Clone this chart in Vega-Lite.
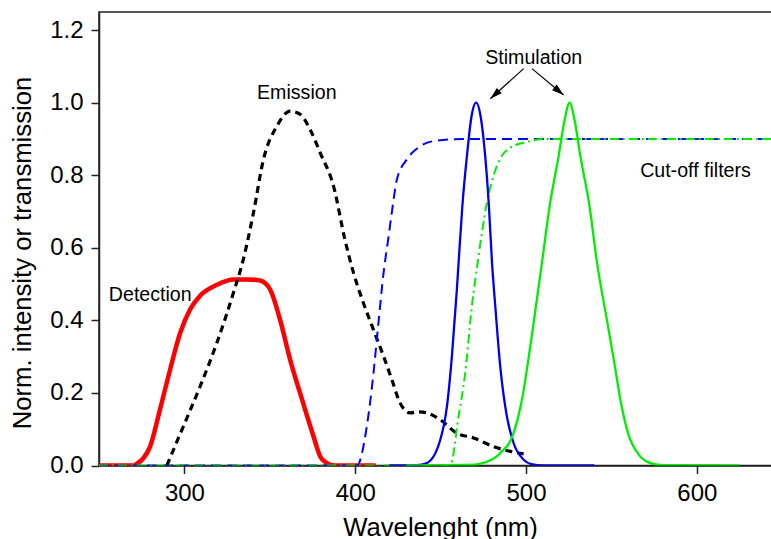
{
  "$schema": "https://vega.github.io/schema/vega-lite/v6.json",
  "autosize": {"type": "none"},
  "padding": {"left": 99, "top": 12, "right": 0, "bottom": 73.5},
  "width": 673,
  "height": 453.5,
  "config": {
    "view": {"stroke": "#222", "strokeWidth": 1.5},
    "font": "Liberation Sans",
    "axis": {
      "grid": false,
      "domainColor": "#222",
      "domainWidth": 1.5,
      "tickColor": "#222",
      "tickWidth": 1.5,
      "tickSize": 8,
      "labelFont": "Liberation Sans",
      "labelFontSize": 24,
      "labelColor": "#000",
      "titleFont": "Liberation Sans",
      "titleFontSize": 25.7,
      "titleFontWeight": "normal",
      "titleColor": "#000"
    }
  },
  "datasets": {
    "curves": [
      {"s": "det", "wl": 250, "v": 0}, {"s": "det", "wl": 270, "v": 0}, {"s": "det", "wl": 272.1, "v": 0.005}, {"s": "det", "wl": 276, "v": 0.02}, {"s": "det", "wl": 279.9, "v": 0.052}, {"s": "det", "wl": 285.7, "v": 0.154}, {"s": "det", "wl": 291.6, "v": 0.264}, {"s": "det", "wl": 297.5, "v": 0.365}, {"s": "det", "wl": 303.3, "v": 0.43}, {"s": "det", "wl": 309.2, "v": 0.468}, {"s": "det", "wl": 319, "v": 0.498}, {"s": "det", "wl": 328.7, "v": 0.513}, {"s": "det", "wl": 337, "v": 0.513}, {"s": "det", "wl": 344.3, "v": 0.51}, {"s": "det", "wl": 347.5, "v": 0.502}, {"s": "det", "wl": 350.2, "v": 0.485}, {"s": "det", "wl": 356, "v": 0.402}, {"s": "det", "wl": 362, "v": 0.29}, {"s": "det", "wl": 369, "v": 0.18}, {"s": "det", "wl": 375.6, "v": 0.08}, {"s": "det", "wl": 379.5, "v": 0.025}, {"s": "det", "wl": 383, "v": 0.008}, {"s": "det", "wl": 388, "v": 0}, {"s": "det", "wl": 412, "v": 0},
      {"s": "em", "wl": 289.7, "v": 0}, {"s": "em", "wl": 299.4, "v": 0.108}, {"s": "em", "wl": 309.2, "v": 0.218}, {"s": "em", "wl": 319, "v": 0.338}, {"s": "em", "wl": 328.7, "v": 0.476}, {"s": "em", "wl": 334.5, "v": 0.568}, {"s": "em", "wl": 340.4, "v": 0.696}, {"s": "em", "wl": 346.3, "v": 0.844}, {"s": "em", "wl": 354.1, "v": 0.935}, {"s": "em", "wl": 361.9, "v": 0.977}, {"s": "em", "wl": 367.8, "v": 0.968}, {"s": "em", "wl": 373.6, "v": 0.926}, {"s": "em", "wl": 379.5, "v": 0.862}, {"s": "em", "wl": 387.3, "v": 0.77}, {"s": "em", "wl": 394.1, "v": 0.62}, {"s": "em", "wl": 399, "v": 0.531}, {"s": "em", "wl": 404.8, "v": 0.448}, {"s": "em", "wl": 410.7, "v": 0.374}, {"s": "em", "wl": 416.6, "v": 0.301}, {"s": "em", "wl": 421.5, "v": 0.236}, {"s": "em", "wl": 426.3, "v": 0.172}, {"s": "em", "wl": 432.2, "v": 0.145}, {"s": "em", "wl": 437, "v": 0.148}, {"s": "em", "wl": 442, "v": 0.145}, {"s": "em", "wl": 449.8, "v": 0.126}, {"s": "em", "wl": 459.5, "v": 0.089}, {"s": "em", "wl": 469.3, "v": 0.076}, {"s": "em", "wl": 481, "v": 0.052}, {"s": "em", "wl": 490.8, "v": 0.039}, {"s": "em", "wl": 498.6, "v": 0.032},
      {"s": "cutb", "wl": 250, "v": 0}, {"s": "cutb", "wl": 401, "v": 0}, {"s": "cutb", "wl": 406.8, "v": 0.108}, {"s": "cutb", "wl": 410.7, "v": 0.255}, {"s": "cutb", "wl": 413.6, "v": 0.393}, {"s": "cutb", "wl": 416.6, "v": 0.531}, {"s": "cutb", "wl": 419.5, "v": 0.63}, {"s": "cutb", "wl": 421.5, "v": 0.7}, {"s": "cutb", "wl": 424.4, "v": 0.788}, {"s": "cutb", "wl": 430.3, "v": 0.844}, {"s": "cutb", "wl": 438, "v": 0.88}, {"s": "cutb", "wl": 445.8, "v": 0.894}, {"s": "cutb", "wl": 463.4, "v": 0.9}, {"s": "cutb", "wl": 644, "v": 0.9},
      {"s": "cutg", "wl": 250, "v": 0}, {"s": "cutg", "wl": 455.6, "v": 0}, {"s": "cutg", "wl": 460.5, "v": 0.135}, {"s": "cutg", "wl": 464.4, "v": 0.255}, {"s": "cutg", "wl": 468.3, "v": 0.439}, {"s": "cutg", "wl": 471.5, "v": 0.553}, {"s": "cutg", "wl": 477.1, "v": 0.724}, {"s": "cutg", "wl": 482.9, "v": 0.825}, {"s": "cutg", "wl": 490.8, "v": 0.876}, {"s": "cutg", "wl": 502.5, "v": 0.894}, {"s": "cutg", "wl": 510, "v": 0.9}, {"s": "cutg", "wl": 644, "v": 0.9},
      {"s": "stb", "wl": 420, "v": 0}, {"s": "stb", "wl": 436, "v": 0.001}, {"s": "stb", "wl": 442, "v": 0.007}, {"s": "stb", "wl": 449.8, "v": 0.071}, {"s": "stb", "wl": 453.7, "v": 0.163}, {"s": "stb", "wl": 456.6, "v": 0.301}, {"s": "stb", "wl": 459.5, "v": 0.485}, {"s": "stb", "wl": 460.5, "v": 0.558}, {"s": "stb", "wl": 462.8, "v": 0.72}, {"s": "stb", "wl": 465.4, "v": 0.853}, {"s": "stb", "wl": 468, "v": 0.96}, {"s": "stb", "wl": 470.8, "v": 1.0}, {"s": "stb", "wl": 473.5, "v": 0.96}, {"s": "stb", "wl": 476.1, "v": 0.853}, {"s": "stb", "wl": 478.2, "v": 0.72}, {"s": "stb", "wl": 480.1, "v": 0.558}, {"s": "stb", "wl": 482, "v": 0.439}, {"s": "stb", "wl": 484.9, "v": 0.273}, {"s": "stb", "wl": 488.8, "v": 0.135}, {"s": "stb", "wl": 492.7, "v": 0.062}, {"s": "stb", "wl": 498.6, "v": 0.016}, {"s": "stb", "wl": 503, "v": 0.004}, {"s": "stb", "wl": 510, "v": 0}, {"s": "stb", "wl": 540, "v": 0},
      {"s": "stg", "wl": 430, "v": 0}, {"s": "stg", "wl": 470, "v": 0.002}, {"s": "stg", "wl": 475, "v": 0.007}, {"s": "stg", "wl": 484.9, "v": 0.034}, {"s": "stg", "wl": 492.7, "v": 0.089}, {"s": "stg", "wl": 497.6, "v": 0.181}, {"s": "stg", "wl": 502.5, "v": 0.328}, {"s": "stg", "wl": 509.3, "v": 0.558}, {"s": "stg", "wl": 514, "v": 0.72}, {"s": "stg", "wl": 519.1, "v": 0.853}, {"s": "stg", "wl": 522.5, "v": 0.95}, {"s": "stg", "wl": 525.5, "v": 1.0}, {"s": "stg", "wl": 528.5, "v": 0.95}, {"s": "stg", "wl": 531.8, "v": 0.853}, {"s": "stg", "wl": 537, "v": 0.72}, {"s": "stg", "wl": 541.6, "v": 0.558}, {"s": "stg", "wl": 547.4, "v": 0.4}, {"s": "stg", "wl": 551.8, "v": 0.28}, {"s": "stg", "wl": 555.5, "v": 0.175}, {"s": "stg", "wl": 560, "v": 0.085}, {"s": "stg", "wl": 566, "v": 0.03}, {"s": "stg", "wl": 572, "v": 0.008}, {"s": "stg", "wl": 580, "v": 0.001}, {"s": "stg", "wl": 625, "v": 0}
    ],
    "labels": [
      {"t": "Emission", "wl": 365.8, "v": 1.009},
      {"t": "Stimulation", "wl": 504.5, "v": 1.108},
      {"t": "Cut-off filters", "wl": 599.2, "v": 0.795},
      {"t": "Detection", "wl": 280, "v": 0.454}
    ],
    "arrows": [
      {"wl": 498.6, "v": 1.094, "wl2": 479.1, "v2": 1.011, "ang": 228},
      {"wl": 503.5, "v": 1.094, "wl2": 522.0, "v2": 1.021, "ang": 130}
    ]
  },
  "layer": [
    {
      "data": {"name": "curves"},
      "transform": [{"filter": "datum.s === 'det'"}],
      "mark": {"type": "line", "color": "#ff0000", "strokeWidth": 4.5, "interpolate": "monotone", "clip": true},
      "encoding": {
        "x": {"field": "wl", "type": "quantitative", "scale": {"domain": [250, 644], "nice": false, "zero": false},
              "axis": {"values": [300, 400, 500, 600], "title": "Wavelenght (nm)", "labelPadding": 8, "titleX": 341, "titleY": 69.5, "titleBaseline": "alphabetic", "titleAnchor": "middle"}},
        "y": {"field": "v", "type": "quantitative", "scale": {"domain": [0, 1.25], "nice": false},
              "axis": {"values": [0, 0.2, 0.4, 0.6, 0.8, 1.0, 1.2], "format": ".1f", "title": "Norm. intensity or transmission", "labelPadding": 8, "titleX": -68.3, "titleY": 240.5, "titleBaseline": "alphabetic", "titleAngle": -90, "titleAnchor": "middle"}}
      }
    },
    {
      "data": {"name": "curves"},
      "transform": [{"filter": "datum.s === 'em'"}],
      "mark": {"type": "line", "color": "#000000", "strokeWidth": 3.2, "strokeDash": [7, 5], "interpolate": "monotone", "clip": true},
      "encoding": {"x": {"field": "wl", "type": "quantitative"}, "y": {"field": "v", "type": "quantitative"}}
    },
    {
      "data": {"name": "curves"},
      "transform": [{"filter": "datum.s === 'cutb'"}],
      "mark": {"type": "line", "color": "#0000ff", "strokeWidth": 2, "strokeDash": [10, 6], "interpolate": "monotone", "clip": true},
      "encoding": {"x": {"field": "wl", "type": "quantitative"}, "y": {"field": "v", "type": "quantitative"}}
    },
    {
      "data": {"name": "curves"},
      "transform": [{"filter": "datum.s === 'cutg'"}],
      "mark": {"type": "line", "color": "#00ee00", "strokeWidth": 2, "strokeDash": [9, 4, 2, 4], "interpolate": "monotone", "clip": true},
      "encoding": {"x": {"field": "wl", "type": "quantitative"}, "y": {"field": "v", "type": "quantitative"}}
    },
    {
      "data": {"name": "curves"},
      "transform": [{"filter": "datum.s === 'stb'"}],
      "mark": {"type": "line", "color": "#0000ee", "strokeWidth": 2.3, "interpolate": "monotone", "clip": true},
      "encoding": {"x": {"field": "wl", "type": "quantitative"}, "y": {"field": "v", "type": "quantitative"}}
    },
    {
      "data": {"name": "curves"},
      "transform": [{"filter": "datum.s === 'stg'"}],
      "mark": {"type": "line", "color": "#00ee00", "strokeWidth": 2.3, "interpolate": "monotone", "clip": true},
      "encoding": {"x": {"field": "wl", "type": "quantitative"}, "y": {"field": "v", "type": "quantitative"}}
    },
    {
      "data": {"name": "labels"},
      "mark": {"type": "text", "font": "Liberation Sans", "fontSize": 19.6, "color": "#000", "align": "center", "baseline": "alphabetic"},
      "encoding": {"x": {"field": "wl", "type": "quantitative"}, "y": {"field": "v", "type": "quantitative"}, "text": {"field": "t"}}
    },
    {
      "data": {"name": "arrows"},
      "mark": {"type": "rule", "color": "#000", "strokeWidth": 1.2},
      "encoding": {"x": {"field": "wl", "type": "quantitative"}, "y": {"field": "v", "type": "quantitative"}, "x2": {"field": "wl2"}, "y2": {"field": "v2"}}
    },
    {
      "data": {"name": "arrows"},
      "mark": {"type": "point", "shape": "M0,0L0.6,2L-0.6,2Z", "filled": true, "color": "#000", "size": 144, "opacity": 1, "strokeWidth": 0},
      "encoding": {"x": {"field": "wl2", "type": "quantitative"}, "y": {"field": "v2", "type": "quantitative"}, "angle": {"field": "ang", "type": "quantitative", "scale": null}}
    }
  ]
}
